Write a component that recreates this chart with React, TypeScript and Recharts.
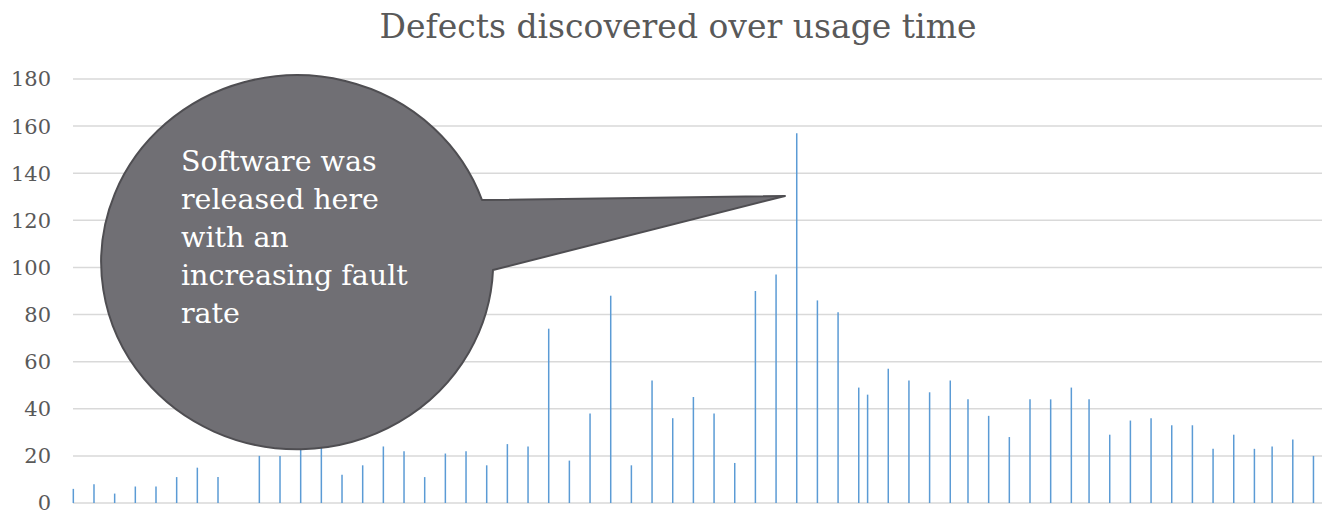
import { Bar, BarChart, CartesianGrid, XAxis, YAxis } from "recharts"

// day of usage on which each batch of defects was logged
const days = [
  0, 7, 14, 21, 28, 35, 42, 49, 63, 70, 77, 84, 91, 98, 105, 112, 119, 126, 133, 140,
  147, 154, 161, 168, 175, 182, 189, 196, 203, 210, 217, 224, 231, 238, 245, 252, 259,
  266, 269, 276, 283, 290, 297, 303, 310, 317, 324, 331, 338, 344, 351, 358, 365, 372,
  379, 386, 393, 400, 406, 413, 420,
]

// defects found on that day
const defects = [
  6, 8, 4, 7, 7, 11, 15, 11, 20, 20, 27, 25, 12, 16, 24, 22, 11, 21, 22, 16,
  25, 24, 74, 18, 38, 88, 16, 52, 36, 45, 38, 17, 90, 97, 157, 86, 81,
  49, 46, 57, 52, 47, 52, 44, 37, 28, 44, 44, 49, 44, 29, 35, 36, 33,
  33, 23, 29, 23, 24, 27, 20,
]

const yTicks = [0, 20, 40, 60, 80, 100, 120, 140, 160, 180]

const calloutLines = ["Software was", "released here", "with an", "increasing fault", "rate"]

const data = days.map((day, i) => ({ day, defects: defects[i] }))

const serif = "'DejaVu Serif', 'Liberation Serif', serif"

export default function App() {
  return (
    <div style={{ position: "absolute", left: 0, top: 0, width: 1322, height: 515, background: "#fff" }}>
      <BarChart width={1322} height={515} data={data} margin={{ top: 79, right: 0, bottom: 12, left: 0 }}>
        <CartesianGrid vertical={false} stroke="#d9d9d9" strokeWidth={1.5} />
        <XAxis type="number" dataKey="day" domain={[0, 423]} hide />
        <YAxis
          width={73}
          domain={[0, 180]}
          ticks={yTicks}
          interval={0}
          axisLine={false}
          tickLine={false}
          tickSize={6}
          tickMargin={16}
          tick={{ fill: "#595959", fontSize: 21, fontFamily: serif }}
        />
        <Bar dataKey="defects" fill="#5b9bd5" barSize={1.5} isAnimationActive={false} />
      </BarChart>

      <svg width={1322} height={515} style={{ position: "absolute", left: 0, top: 0, pointerEvents: "none" }}>
        <text x={678} y={38} textAnchor="middle" fill="#595959" fontSize={33} fontFamily={serif}>
          Defects discovered over usage time
        </text>
        {/* speech bubble pointing at the release spike */}
        <path
          d="M 482 200 A 196 187 0 1 0 493 270 L 785 196 Z"
          fill="#706f74"
          stroke="#4f4e52"
          strokeWidth={2}
          strokeLinejoin="round"
        />
        {calloutLines.map((line, i) => (
          <text key={line} x={181} y={171 + i * 38} fill="#ffffff" fontSize={28.5} fontFamily={serif}>
            {line}
          </text>
        ))}
      </svg>
    </div>
  )
}
